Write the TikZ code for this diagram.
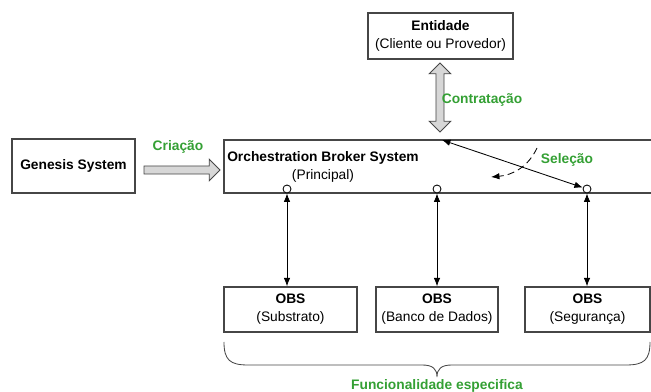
\documentclass[tikz,border=0pt]{standalone}
\usepackage{fontspec}
\setmainfont{Liberation Sans}
\usetikzlibrary{arrows.meta,shapes.arrows}
\definecolor{labelgreen}{RGB}{52,160,52}
\definecolor{linegray}{RGB}{70,70,70}
\definecolor{arrowfill}{RGB}{215,215,215}

\begin{document}
\begin{tikzpicture}[x=0.025cm, y=-0.025cm,
	font=\fontsize{9.8}{12.8}\selectfont,
	box/.style={rectangle, draw=linegray, line width=0.9pt, align=center, minimum height=1.125cm},
	port/.style={circle, draw=black, line width=0.6pt, fill=white, minimum size=0.2cm, inner sep=0pt},
	link/.style={{Latex[length=6pt,width=4.6pt]}-{Latex[length=6pt,width=4.6pt]}, line width=0.6pt},
	fatarrow/.style={draw=linegray, fill=arrowfill, line width=0.6pt, inner xsep=0pt, inner ysep=0.09cm, single arrow head extend=0.17cm},
	greenlabel/.style={text=labelgreen, font=\fontsize{9.8}{12.8}\selectfont\bfseries}]
	
	\useasboundingbox (0,0) rectangle (651,392);
	
	%Boxes
	\node (entidade) at (440.5,36) [box, minimum width=3.625cm, minimum height=1.15cm] {\textbf{Entidade}\\(Cliente ou Provedor)};
	\node (genesis) at (73.5,166) [box, minimum width=3.075cm, minimum height=1.35cm] {\textbf{Genesis System}};
	\node (orch) at (440,166.5) [box, minimum width=10.8cm, minimum height=1.325cm] {};
	\node (orchtext) at (323,167) [align=center] {\textbf{Orchestration Broker System}\\(Principal)};
	\node (obsA) at (290.5,309.5) [box, minimum width=3.325cm] {\textbf{OBS}\\(Substrato)};
	\node (obsB) at (437,309.5) [box, minimum width=3.05cm] {\textbf{OBS}\\(Banco de Dados)};
	\node (obsC) at (587.5,309.5) [box, minimum width=3.125cm] {\textbf{OBS}\\(Segurança)};
	
	%Ports
	\node (portA) at (287,189) [port] {};
	\node (portB) at (437,189) [port] {};
	\node (portC) at (587,189) [port] {};
	
	%Big arrows
	\path (genesis) -- (orch.west) node (criacao) at (180,170) [fatarrow, single arrow, minimum height=1.9cm] {};
	\path (entidade) -- (orch) node (contrato) at (440,97.5) [fatarrow, double arrow, double arrow head extend=0.17cm, minimum height=1.725cm, rotate=90] {};
	
	%Links
	\draw[link] (portA) -- (portA |- obsA.north);
	\draw[link] (portB) -- (portB |- obsB.north);
	\draw[link] (portC) -- (portC |- obsC.north);
	\coordinate (seltop) at (442,140);
	\draw[link] (seltop) -- (portC);
	\coordinate (selstart) at (537,148);
	\coordinate (selend) at (491,177);
	\draw[dash pattern=on 5pt off 3pt, line width=0.6pt, -{Latex[length=6pt,width=4.6pt]}] (selstart) to[out=245, in=5] (selend);
	
	%Brace
	\draw[line width=0.6pt, linegray] (224,342) .. controls (224,360) and (230,365) .. (248,365) -- (422,365) .. controls (433,365) and (437,369) .. (437,377) .. controls (437,369) and (441,365) .. (452,365) -- (626,365) .. controls (644,365) and (650,360) .. (650,342);
	
	%Labels
	\node (criacaolabel) at (178,147) [greenlabel] {Criação};
	\node (contratolabel) at (482,100) [greenlabel] {Contratação};
	\node (selecaolabel) at (567,160) [greenlabel] {Seleção};
	\node (funclabel) at (437,386) [greenlabel] {Funcionalidade especifica};
	
\end{tikzpicture}
\end{document}
